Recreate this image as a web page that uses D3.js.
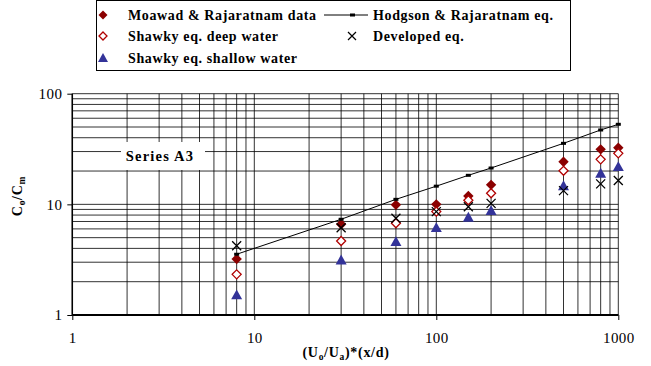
<!DOCTYPE html>
<html>
<head>
<meta charset="utf-8">
<script src="https://cdn.jsdelivr.net/npm/d3@7"></script>
<style>
  html, body { margin: 0; padding: 0; background: #fff; }
  svg { display: block; }
  text { font-family: "Liberation Serif", "Times New Roman", serif; }
</style>
</head>
<body>
<svg id="chart" width="651" height="366"></svg>
<script>
// ---- data ----
const xValues = [8, 30, 60, 100, 150, 200, 500, 800, 1000];
const moawadData = [3.2, 6.6, 9.9, 10.0, 11.9, 15.0, 24.3, 31.4, 32.5];
const shawkyDeep = [2.33, 4.66, 6.74, 8.6, 10.9, 12.6, 20.1, 25.5, 28.9];
const shawkyShallow = [1.52, 3.14, 4.6, 6.15, 7.64, 8.77, 14.7, 19.1, 21.9];
const developedEq = [4.23, 6.15, 7.48, 8.59, 9.52, 10.2, 13.3, 15.3, 16.4];
const hodgsonEq = [3.54, 7.33, 11.1, 14.6, 18.3, 21.3, 35.6, 47.0, 52.9];
const xTickLabels = [1, 10, 100, 1000];
const yTickLabels = [1, 10, 100];
const seriesNames = ["Moawad & Rajaratnam data", "Hodgson & Rajaratnam eq.", "Shawky eq. deep water", "Developed eq.", "Shawky eq. shallow water"];

const svg = d3.select("#chart");
const x = d3.scaleLog().domain([1, 1000]).range([72.3, 618.3]);
const y = d3.scaleLog().domain([1, 100]).range([315, 93.7]);

const red = "#8B0000";
const openRed = "#B00000";
const blue = "#333399";
const serif = "'Liberation Serif', 'Times New Roman', serif";

// ---- gridlines ----
const xGrid = [];
for (let d = 1; d < 1000; d *= 10) for (let k = 1; k <= 10; k++) xGrid.push(d * k);
const yGrid = [];
for (let d = 1; d < 100; d *= 10) for (let k = 1; k <= 10; k++) yGrid.push(d * k);
const grid = svg.append("g");
grid.selectAll("line.vx").data(Array.from(new Set(xGrid))).enter().append("line")
  .attr("x1", d => x(d)).attr("x2", d => x(d)).attr("y1", y(100)).attr("y2", y(1))
  .attr("stroke", "#000").attr("stroke-width", 1).attr("opacity", 0.8);
grid.selectAll("line.hy").data(Array.from(new Set(yGrid))).enter().append("line")
  .attr("y1", d => y(d)).attr("y2", d => y(d)).attr("x1", x(1)).attr("x2", x(1000))
  .attr("stroke", "#000").attr("stroke-width", 1).attr("opacity", 0.8);

// ---- axes ----
const xAxis = d3.axisBottom(x).tickValues(xTickLabels).tickFormat(d3.format("d")).tickSize(5).tickPadding(12);
const gx = svg.append("g").attr("transform", `translate(0,${y(1)})`).call(xAxis);
gx.attr("font-family", serif).attr("font-size", 15);
gx.select(".domain").attr("stroke", "#000").attr("stroke-width", 2).attr("d", `M${x(1)},0H${x(1000)}`);
gx.selectAll("text").attr("fill", "#000").attr("letter-spacing", 0.4);

const yAxis = d3.axisLeft(y).tickValues(yTickLabels).tickFormat(d3.format("d")).tickSize(5).tickPadding(5);
const gy = svg.append("g").attr("transform", `translate(${x(1)},0)`).call(yAxis);
gy.attr("font-family", serif).attr("font-size", 15);
gy.select(".domain").attr("stroke", "#000").attr("stroke-width", 1.5).attr("d", `M0,${y(100)}V${y(1)}`);
gy.selectAll("text").attr("fill", "#000").attr("letter-spacing", 0.4);

// ---- Series A3 label ----
svg.append("rect").attr("x", 121).attr("y", 142).attr("width", 84).attr("height", 28).attr("fill", "#fff");
svg.append("text").attr("x", 160).attr("y", 160.5).attr("text-anchor", "middle")
  .attr("font-size", 14.5).attr("font-weight", "bold").attr("letter-spacing", 1.2).text("Series A3");

// ---- markers ----
const diamond = s => `M0,${-s}L${s},0L0,${s}L${-s},0Z`;
const tri = s => `M0,${-s}L${s},${s * 0.8}L${-s},${s * 0.8}Z`;
const cross = s => `M${-s},${-s}L${s},${s}M${-s},${s}L${s},${-s}`;

const pts = (arr) => xValues.map((v, i) => ({ x: v, y: arr[i] }));

// Moawad filled diamonds
svg.append("g").selectAll("path").data(pts(moawadData)).enter().append("path")
  .attr("d", diamond(5.2)).attr("transform", d => `translate(${x(d.x)},${y(d.y)})`).attr("fill", red);

// Hodgson line
const line = d3.line().x(d => x(d.x)).y(d => y(d.y));
svg.append("path").datum(pts(hodgsonEq)).attr("d", line).attr("fill", "none").attr("stroke", "#000").attr("stroke-width", 1);
svg.append("g").selectAll("rect").data(pts(hodgsonEq)).enter().append("rect")
  .attr("x", d => x(d.x) - 2.5).attr("y", d => y(d.y) - 1.5).attr("width", 5).attr("height", 3).attr("fill", "#000");

// Shawky deep open diamonds
svg.append("g").selectAll("path").data(pts(shawkyDeep)).enter().append("path")
  .attr("d", diamond(4.5)).attr("transform", d => `translate(${x(d.x)},${y(d.y)})`)
  .attr("fill", "#fff").attr("stroke", openRed).attr("stroke-width", 1.3);

// Shawky shallow triangles
svg.append("g").selectAll("path").data(pts(shawkyShallow)).enter().append("path")
  .attr("d", tri(5.5)).attr("transform", d => `translate(${x(d.x)},${y(d.y)})`).attr("fill", blue);

// Developed crosses
svg.append("g").selectAll("path").data(pts(developedEq)).enter().append("path")
  .attr("d", cross(4.5)).attr("transform", d => `translate(${x(d.x)},${y(d.y)})`)
  .attr("fill", "none").attr("stroke", "#000").attr("stroke-width", 1.3);

// ---- axis titles ----
const xt = svg.append("text").attr("x", 346).attr("y", 357).attr("text-anchor", "middle")
  .attr("font-size", 14).attr("font-weight", "bold").attr("letter-spacing", 0.7);
xt.append("tspan").text("(U");
xt.append("tspan").attr("font-size", 9.5).attr("dy", 3).text("o");
xt.append("tspan").attr("dy", -3).text("/U");
xt.append("tspan").attr("font-size", 9.5).attr("dy", 3).text("a");
xt.append("tspan").attr("dy", -3).text(")*(x/d)");

const yt = svg.append("text").attr("transform", "translate(22,196) rotate(-90)").attr("text-anchor", "middle")
  .attr("font-size", 14).attr("font-weight", "bold").attr("letter-spacing", 0.7);
yt.append("tspan").text("C");
yt.append("tspan").attr("font-size", 9.5).attr("dy", 3).text("o");
yt.append("tspan").attr("dy", -3).text("/C");
yt.append("tspan").attr("font-size", 9.5).attr("dy", 3).text("m");

// ---- legend ----
const lg = svg.append("g");
lg.append("rect").attr("x", 96.5).attr("y", 0.5).attr("width", 474).attr("height", 70)
  .attr("fill", "#fff").attr("stroke", "#000").attr("stroke-width", 1);
const legendItems = [
  { name: seriesNames[0], mx: 103, tx: 128, ty: 15, type: "fdiamond" },
  { name: seriesNames[1], mx: 346, tx: 373, ty: 15, type: "line" },
  { name: seriesNames[2], mx: 103, tx: 128, ty: 36, type: "odiamond" },
  { name: seriesNames[3], mx: 352, tx: 373, ty: 36, type: "cross" },
  { name: seriesNames[4], mx: 103, tx: 128, ty: 58, type: "tri" }
];
legendItems.forEach(it => {
  const g = lg.append("g").attr("transform", `translate(${it.mx},${it.ty})`);
  if (it.type === "fdiamond") g.append("path").attr("d", diamond(4.5)).attr("fill", red);
  if (it.type === "odiamond") g.append("path").attr("d", diamond(4)).attr("fill", "#fff").attr("stroke", openRed).attr("stroke-width", 1.3);
  if (it.type === "tri") g.append("path").attr("d", tri(5)).attr("fill", blue);
  if (it.type === "cross") g.append("path").attr("d", cross(4)).attr("fill", "none").attr("stroke", "#000").attr("stroke-width", 1.2);
  if (it.type === "line") {
    g.append("line").attr("x1", -22).attr("x2", 22).attr("stroke", "#000").attr("stroke-width", 1);
    g.append("rect").attr("x", 4).attr("y", -1.5).attr("width", 5).attr("height", 3).attr("fill", "#000");
  }
  lg.append("text").attr("x", it.tx).attr("y", it.ty + 5).attr("font-size", 14).attr("font-weight", "bold")
    .attr("letter-spacing", 0.62).text(it.name);
});
</script>
</body>
</html>
